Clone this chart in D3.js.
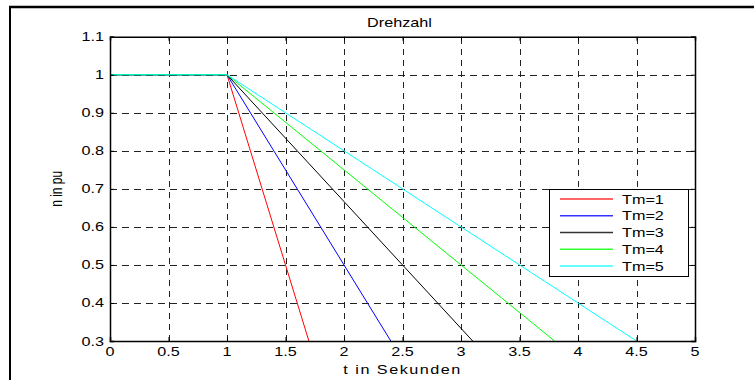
<!DOCTYPE html>
<html>
<head>
<meta charset="utf-8">
<script src="https://cdn.jsdelivr.net/npm/d3@7"></script>
<style>
  html, body { margin: 0; padding: 0; background: #fff; }
  svg { display: block; }
  text { font-family: "Liberation Sans", Arial, Helvetica, sans-serif; fill: #000; }
</style>
</head>
<body>
<svg id="chart" width="754" height="380"></svg>
<script>
// Speed response n (per unit) after a load step at t = 1 s, for motor time constants Tm = 1..5
const seriesNames = ["Tm=1", "Tm=2", "Tm=3", "Tm=4", "Tm=5"];
const tm1 = [[0, 1], [1, 1], [1.7, 0.3]];
const tm2 = [[0, 1], [1, 1], [2.4, 0.3]];
const tm3 = [[0, 1], [1, 1], [3.1, 0.3]];
const tm4 = [[0, 1], [1, 1], [3.8, 0.3]];
const tm5 = [[0, 1], [1, 1], [4.5, 0.3]];
const seriesData = [tm1, tm2, tm3, tm4, tm5];
const seriesColors = ["#ff0000", "#0000ff", "#000000", "#00ff00", "#00ffff"];

const xTicks = [0, 0.5, 1, 1.5, 2, 2.5, 3, 3.5, 4, 4.5, 5];
const yTicks = [0.3, 0.4, 0.5, 0.6, 0.7, 0.8, 0.9, 1, 1.1];
const titleText = "Drehzahl";
const xLabelText = "t in Sekunden";
const yLabelText = "n in pu";

const svg = d3.select("#chart");
const plot = { left: 110, right: 695, top: 36.7, bottom: 341 };
const SX = 1.35;          // horizontal text stretch
const FS = 12;            // font size

const x = d3.scaleLinear().domain([0, 5]).range([plot.left, plot.right]);
const y = d3.scaleLinear().domain([0.3, 1.1]).range([plot.bottom, plot.top]);

// outer figure frame (top and left edges)
svg.append("line").attr("x1", 9).attr("x2", 754).attr("y1", 7).attr("y2", 7)
  .attr("stroke", "#000").attr("stroke-width", 2.5);
svg.append("line").attr("x1", 10).attr("x2", 10).attr("y1", 6).attr("y2", 380)
  .attr("stroke", "#000").attr("stroke-width", 2);

function stretchedText(g, tx, ty, str, anchor) {
  return g.append("text")
    .attr("transform", `translate(${tx},${ty}) scale(${SX},1)`)
    .attr("text-anchor", anchor)
    .attr("font-size", FS)
    .text(str);
}

// grid
const grid = svg.append("g").attr("stroke", "#222").attr("stroke-width", 1).attr("fill", "none");
grid.selectAll("line.vx").data(xTicks.slice(1, -1)).join("line")
  .attr("x1", d => Math.round(x(d)) + 0.5).attr("x2", d => Math.round(x(d)) + 0.5)
  .attr("y1", plot.bottom).attr("y2", plot.top)
  .attr("stroke-dasharray", "6,5");
grid.selectAll("line.hy").data(yTicks.slice(1, -1)).join("line")
  .attr("y1", d => Math.round(y(d)) + 0.5).attr("y2", d => Math.round(y(d)) + 0.5)
  .attr("x1", plot.left).attr("x2", plot.right)
  .attr("stroke-dasharray", "7,5");

// data lines
svg.append("clipPath").attr("id", "plotClip").append("rect")
  .attr("x", plot.left).attr("y", plot.top)
  .attr("width", plot.right - plot.left).attr("height", plot.bottom - plot.top);
const line = d3.line().x(d => x(d[0])).y(d => y(d[1]));
svg.append("g").attr("clip-path", "url(#plotClip)")
  .selectAll("path").data(seriesData).join("path")
  .attr("d", line)
  .attr("fill", "none")
  .attr("stroke", (d, i) => seriesColors[i])
  .attr("stroke-width", 1);

// axes via d3 axis generators, ticks pointing inward
const axB = d3.axisBottom(x).tickValues(xTicks).tickSize(-4).tickFormat(() => "");
const axT = d3.axisTop(x).tickValues(xTicks).tickSize(-4).tickFormat(() => "");
const axL = d3.axisLeft(y).tickValues(yTicks).tickSize(-4).tickFormat(() => "");
const axR = d3.axisRight(y).tickValues(yTicks).tickSize(-4).tickFormat(() => "");
[[axB, `translate(0,${plot.bottom})`], [axT, `translate(0,${plot.top})`],
 [axL, `translate(${plot.left},0)`], [axR, `translate(${plot.right},0)`]].forEach(([ax, tr]) => {
  const g = svg.append("g").attr("transform", tr).call(ax);
  g.select(".domain").attr("stroke", "#000").attr("stroke-width", 1.5);
  g.selectAll(".tick line").attr("stroke", "#000").attr("stroke-width", 1);
});

// tick labels
const labels = svg.append("g");
xTicks.forEach(t => stretchedText(labels, x(t), 356, d3.format("")(t), "middle"));
yTicks.forEach(t => stretchedText(labels, plot.left - 6, y(t) + 4.5, d3.format("")(t), "end"));

// title and axis labels
stretchedText(svg, (plot.left + plot.right) / 2 - 3, 27, titleText, "middle");
stretchedText(svg, (plot.left + plot.right) / 2, 374, xLabelText, "middle")
  .attr("letter-spacing", 1.1);
svg.append("text")
  .attr("transform", `translate(62,${(plot.top + plot.bottom) / 2}) scale(${SX},1) rotate(-90)`)
  .attr("text-anchor", "middle")
  .attr("font-size", FS)
  .text(yLabelText);

// legend
const leg = svg.append("g");
leg.append("rect").attr("x", 549.5).attr("y", 189.5).attr("width", 139).attr("height", 87)
  .attr("fill", "#fff").attr("stroke", "#000").attr("stroke-width", 1);
seriesNames.forEach((name, i) => {
  const ry = 199 + i * 16.75;
  leg.append("line").attr("x1", 560).attr("x2", 613).attr("y1", ry).attr("y2", ry)
    .attr("stroke", seriesColors[i]).attr("stroke-width", 1.5).attr("stroke-opacity", 0.8);
  stretchedText(leg, 622, ry + 4.5, name, "start");
});
</script>
</body>
</html>
